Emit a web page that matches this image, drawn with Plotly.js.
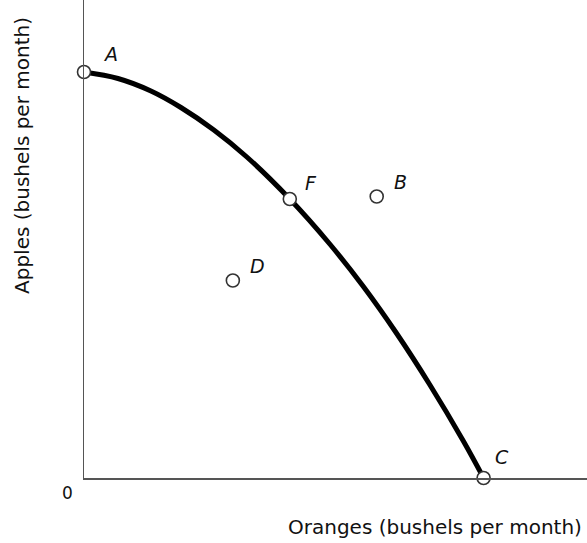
<!DOCTYPE html>
<html>
<head>
<meta charset="utf-8">
<script src="https://cdn.plot.ly/plotly-3.0.1.min.js"></script>
<style>html,body{margin:0;padding:0;background:#fff;}#chart{width:587px;height:543px;}</style>
</head>
<body>
<div id="chart"></div>
<script>
// Production possibilities frontier (oranges vs apples)
const curveX = [0, 0.68, 1.34, 1.94, 2.60, 3.26, 4.12, 4.92, 5.60, 6.26, 6.92, 7.60, 8.0];
const curveY = [8.12, 7.99, 7.74, 7.41, 6.96, 6.42, 5.58, 4.68, 3.82, 2.89, 1.87, 0.73, 0];

const pointLabels = ["A", "F", "B", "D", "C"];
const pointX = [0, 4.12, 5.86, 2.98, 8.0];
const pointY = [8.12, 5.58, 5.63, 3.95, 0];

const xTitle = "Oranges (bushels per month)";
const yTitle = "Apples (bushels per month)";
const originLabel = "0";

// label offsets in pixels (styling only)
const labelShiftX = [26, 21, 24, 25, 18];
const labelShiftY = [18, 16, 15, 15, 21];

const FONT = "'DejaVu Sans', sans-serif";

const traces = [
  {
    x: curveX, y: curveY, type: "scatter", mode: "lines",
    line: {color: "#000", width: 5, shape: "spline", smoothing: 1.0},
    hoverinfo: "skip", cliponaxis: false
  },
  {
    x: pointX, y: pointY, type: "scatter", mode: "markers",
    marker: {size: 13, color: "#fff", line: {color: "#333", width: 1.6}},
    cliponaxis: false, hoverinfo: "skip"
  }
];

const annotations = pointLabels.map((t, i) => ({
  x: pointX[i], y: pointY[i], xref: "x", yref: "y",
  xanchor: "center", yanchor: "middle",
  text: "<i>" + t + "</i>", showarrow: false,
  xshift: labelShiftX[i], yshift: labelShiftY[i],
  font: {family: FONT, size: 19, color: "#111"}
}));

annotations.push({
  xref: "paper", yref: "paper", x: -0.032, y: -0.032,
  xanchor: "center", yanchor: "middle",
  text: originLabel, showarrow: false,
  font: {family: FONT, size: 17, color: "#111"}
});
annotations.push({
  xref: "paper", yref: "paper", x: 0.697, y: -0.1025,
  xanchor: "center", yanchor: "middle",
  text: xTitle, showarrow: false,
  font: {family: FONT, size: 20, color: "#111"}
});
annotations.push({
  xref: "paper", yref: "paper", x: -0.123, y: 0.674, textangle: -90,
  xanchor: "center", yanchor: "middle",
  text: yTitle, showarrow: false,
  font: {family: FONT, size: 20, color: "#111"}
});

const layout = {
  width: 587, height: 543,
  margin: {l: 84, r: 0, t: 0, b: 65, pad: 0},
  paper_bgcolor: "#fff", plot_bgcolor: "#fff",
  showlegend: false,
  xaxis: {range: [0, 10.07], showgrid: false, zeroline: false, showticklabels: false,
          ticks: "", showline: true, linecolor: "#555", linewidth: 1.5, fixedrange: true},
  yaxis: {range: [0, 9.56], showgrid: false, zeroline: false, showticklabels: false,
          ticks: "", showline: true, linecolor: "#555", linewidth: 1.5, fixedrange: true},
  annotations: annotations
};

Plotly.newPlot("chart", traces, layout, {staticPlot: true, displayModeBar: false});
</script>
</body>
</html>
